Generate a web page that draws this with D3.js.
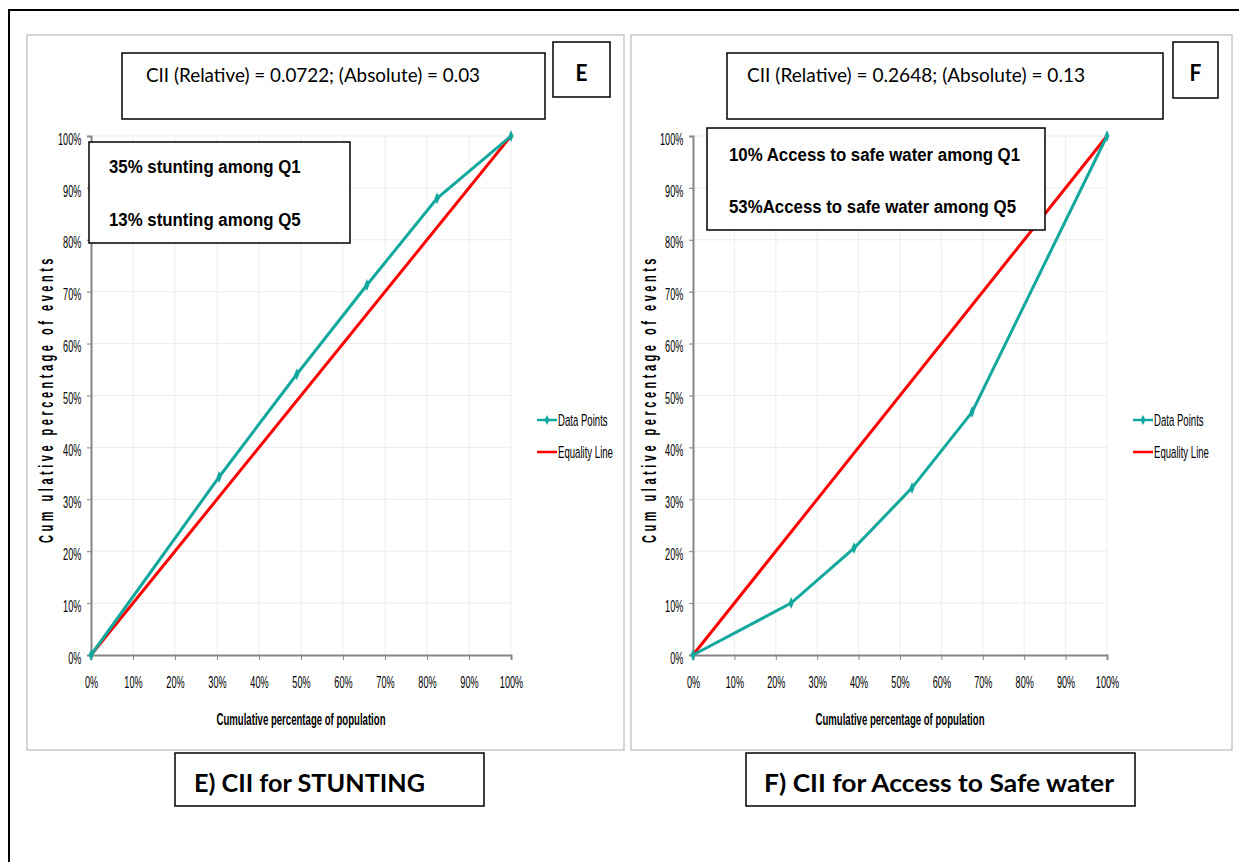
<!DOCTYPE html>
<html>
<head>
<meta charset="utf-8">
<script src="https://cdn.jsdelivr.net/npm/d3@7"></script>
<style>
  body { margin: 0; background: #fff; }
  svg text { fill: #000; }
</style>
</head>
<body>
<script>
// data (fractions of 1)
const ticks = [0, 0.1, 0.2, 0.3, 0.4, 0.5, 0.6, 0.7, 0.8, 0.9, 1]
const stuntingX = [0, 0.305, 0.49, 0.657, 0.824, 1]
const stuntingY = [0, 0.343, 0.541, 0.713, 0.88, 1]
const waterX = [0, 0.237, 0.389, 0.529, 0.674, 1]
const waterY = [0, 0.10, 0.206, 0.322, 0.468, 1]
const equalityX = [0, 1]
const equalityY = [0, 1]
const legendNames = ["Data Points", "Equality Line"]

const teal = "#13a89e", red = "#ff0000"
const arial = "'Liberation Sans', Arial, sans-serif"
const calibri = "Lato, 'Open Sans', sans-serif"

let svg = d3.select("body").append("svg")
    .attr("width", 1239)
    .attr("height", 862)

// squeezed text helper (Arial Narrow look)
function txt(g, x, y, s, size, sx, opt) {
  opt = opt || {}
  let t = g.append("text")
    .attr("transform", "translate(" + x + "," + y + ")" + (opt.rot ? " rotate(" + opt.rot + ")" : "") + " scale(" + sx + ",1)")
    .attr("text-anchor", opt.anchor || "start")
    .attr("font-family", opt.family || arial)
    .attr("font-size", size)
    .attr("font-weight", opt.bold ? "bold" : "normal")
    .attr("letter-spacing", opt.ls || 0)
    .text(s)
  if (opt.len) t.attr("textLength", opt.len).attr("lengthAdjust", "spacingAndGlyphs")
  return t
}

// outer frame
svg.append("rect")
    .attr("x", 9).attr("y", 10).attr("width", 1240).attr("height", 870)
    .attr("fill", "none").attr("stroke", "#000").attr("stroke-width", 2)

const panels = [
  {px: 27, pw: 597, x0: 91, x1: 511, xs: stuntingX, ys: stuntingY,
   cii: "CII (Relative) = 0.0722; (Absolute) = 0.03", ciiBox: [122, 53, 423, 66], ciiTx: 146, ciiLen: 334,
   letter: "E", letBox: [553, 42, 57, 55],
   note: ["35% stunting among Q1", "13% stunting among Q5"], noteBox: [89, 142, 261, 101], noteTx: 109, noteTy: [173, 226],
   legX: 537, yLab: 46,
   caption: "E) CII for STUNTING", capBox: [175, 753, 309, 53], capTx: 194, capLen: 231},
  {px: 631, pw: 601, x0: 693, x1: 1107, xs: waterX, ys: waterY,
   cii: "CII (Relative) = 0.2648; (Absolute) = 0.13", ciiBox: [727, 53, 436, 66], ciiTx: 747, ciiLen: 338,
   letter: "F", letBox: [1173, 42, 45, 56],
   note: ["10% Access to safe water among Q1", "53%Access to safe water among Q5"], noteBox: [707, 128, 338, 102], noteTx: 729, noteTy: [161, 213],
   legX: 1133, yLab: 649,
   caption: "F) CII for Access to Safe water", capBox: [746, 753, 389, 53], capTx: 764, capLen: 350}
]

panels.forEach(function(p) {
  let g = svg.append("g")

  // chart area border
  g.append("rect")
    .attr("x", p.px).attr("y", 35).attr("width", p.pw).attr("height", 715)
    .attr("fill", "#fff").attr("stroke", "#c8c8c8").attr("stroke-width", 1.5)

  let x = d3.scaleLinear().domain([0, 1]).range([p.x0, p.x1])
  let y = d3.scaleLinear().domain([0, 1]).range([655, 136])

  // grid
  g.selectAll(".vg").data(ticks.slice(1)).enter().append("line")
    .attr("x1", d => x(d)).attr("x2", d => x(d))
    .attr("y1", y(0)).attr("y2", y(1))
    .attr("stroke", "#ececec")
  g.selectAll(".hg").data(ticks.slice(1)).enter().append("line")
    .attr("x1", x(0) - 4).attr("x2", x(1))
    .attr("y1", d => y(d)).attr("y2", d => y(d))
    .attr("stroke", "#ececec")

  // axes
  let xAxis = g.append("g").attr("transform", "translate(0," + y(0) + ")")
    .call(d3.axisBottom(x).tickValues(ticks).tickFormat(d3.format(".0%")).tickSize(5).tickPadding(20))
  let yAxis = g.append("g").attr("transform", "translate(" + x(0) + ",0)")
    .call(d3.axisLeft(y).tickValues(ticks).tickFormat(d3.format(".0%")).tickSize(4).tickPadding(10))
  ;[xAxis, yAxis].forEach(function(a) {
    a.select(".domain").attr("stroke", "#868686").attr("stroke-width", 2)
    a.selectAll(".tick line").attr("stroke", "#868686")
    a.selectAll(".tick text")
      .attr("font-family", arial).attr("font-size", 16).attr("fill", "#000")
      .attr("transform", "scale(0.57,1)")
  })
  xAxis.selectAll(".tick text").attr("y", 22)
  yAxis.selectAll(".tick text").attr("x", -17).attr("y", 3)

  // axis titles
  txt(g, (p.x0 + p.x1) / 2, 725, "Cumulative percentage of population", 16, 0.6, {anchor: "middle", bold: true})
  txt(g, p.yLab, 399, "Cum ulative percentage of events", 20, 0.55, {anchor: "middle", bold: true, rot: -90, ls: 6.4})
    .attr("dy", "0.36em")

  // lines
  let line = d3.line().x(d => x(d[0])).y(d => y(d[1]))
  g.append("path")
    .datum(d3.zip(equalityX, equalityY))
    .attr("d", line).attr("fill", "none").attr("stroke", red).attr("stroke-width", 3)
  g.append("path")
    .datum(d3.zip(p.xs, p.ys))
    .attr("d", line).attr("fill", "none").attr("stroke", teal).attr("stroke-width", 3)
  g.selectAll(".pt").data(d3.zip(p.xs, p.ys)).enter().append("path")
    .attr("transform", d => "translate(" + x(d[0]) + "," + y(d[1]) + ")")
    .attr("d", "M0,-6 L2.5,0 L0,6 L-2.5,0 Z")
    .attr("fill", teal)

  // legend
  legendNames.forEach(function(name, i) {
    let ly = 420 + i * 32
    g.append("line")
      .attr("x1", p.legX).attr("x2", p.legX + 20).attr("y1", ly).attr("y2", ly)
      .attr("stroke", i == 0 ? teal : red).attr("stroke-width", 2.5)
    if (i == 0) {
      g.append("path")
        .attr("transform", "translate(" + (p.legX + 10) + "," + ly + ")")
        .attr("d", "M0,-5 L2.5,0 L0,5 L-2.5,0 Z").attr("fill", teal)
    }
    txt(g, p.legX + 21, ly + 6, name, 16, 0.6)
  })

  // CII box
  g.append("rect")
    .attr("x", p.ciiBox[0]).attr("y", p.ciiBox[1]).attr("width", p.ciiBox[2]).attr("height", p.ciiBox[3])
    .attr("fill", "#fff").attr("stroke", "#000").attr("stroke-width", 1.5)
  txt(g, p.ciiTx, 82, p.cii, 20, 1, {family: calibri, len: p.ciiLen})

  // letter box
  g.append("rect")
    .attr("x", p.letBox[0]).attr("y", p.letBox[1]).attr("width", p.letBox[2]).attr("height", p.letBox[3])
    .attr("fill", "#fff").attr("stroke", "#000").attr("stroke-width", 1.5)
  txt(g, p.letBox[0] + p.letBox[2] / 2, 81, p.letter, 22, 0.95, {family: calibri, bold: true, anchor: "middle"})

  // note box
  g.append("rect")
    .attr("x", p.noteBox[0]).attr("y", p.noteBox[1]).attr("width", p.noteBox[2]).attr("height", p.noteBox[3])
    .attr("fill", "#fff").attr("stroke", "#000").attr("stroke-width", 1.5)
  p.note.forEach(function(t, i) {
    txt(g, p.noteTx, p.noteTy[i], t, 18.5, 0.91, {bold: true})
  })

  // caption
  g.append("rect")
    .attr("x", p.capBox[0]).attr("y", p.capBox[1]).attr("width", p.capBox[2]).attr("height", p.capBox[3])
    .attr("fill", "#fff").attr("stroke", "#000").attr("stroke-width", 1.5)
  txt(g, p.capTx, 792, p.caption, 25, 1, {family: calibri, bold: true, len: p.capLen})
})
</script>
</body>
</html>
